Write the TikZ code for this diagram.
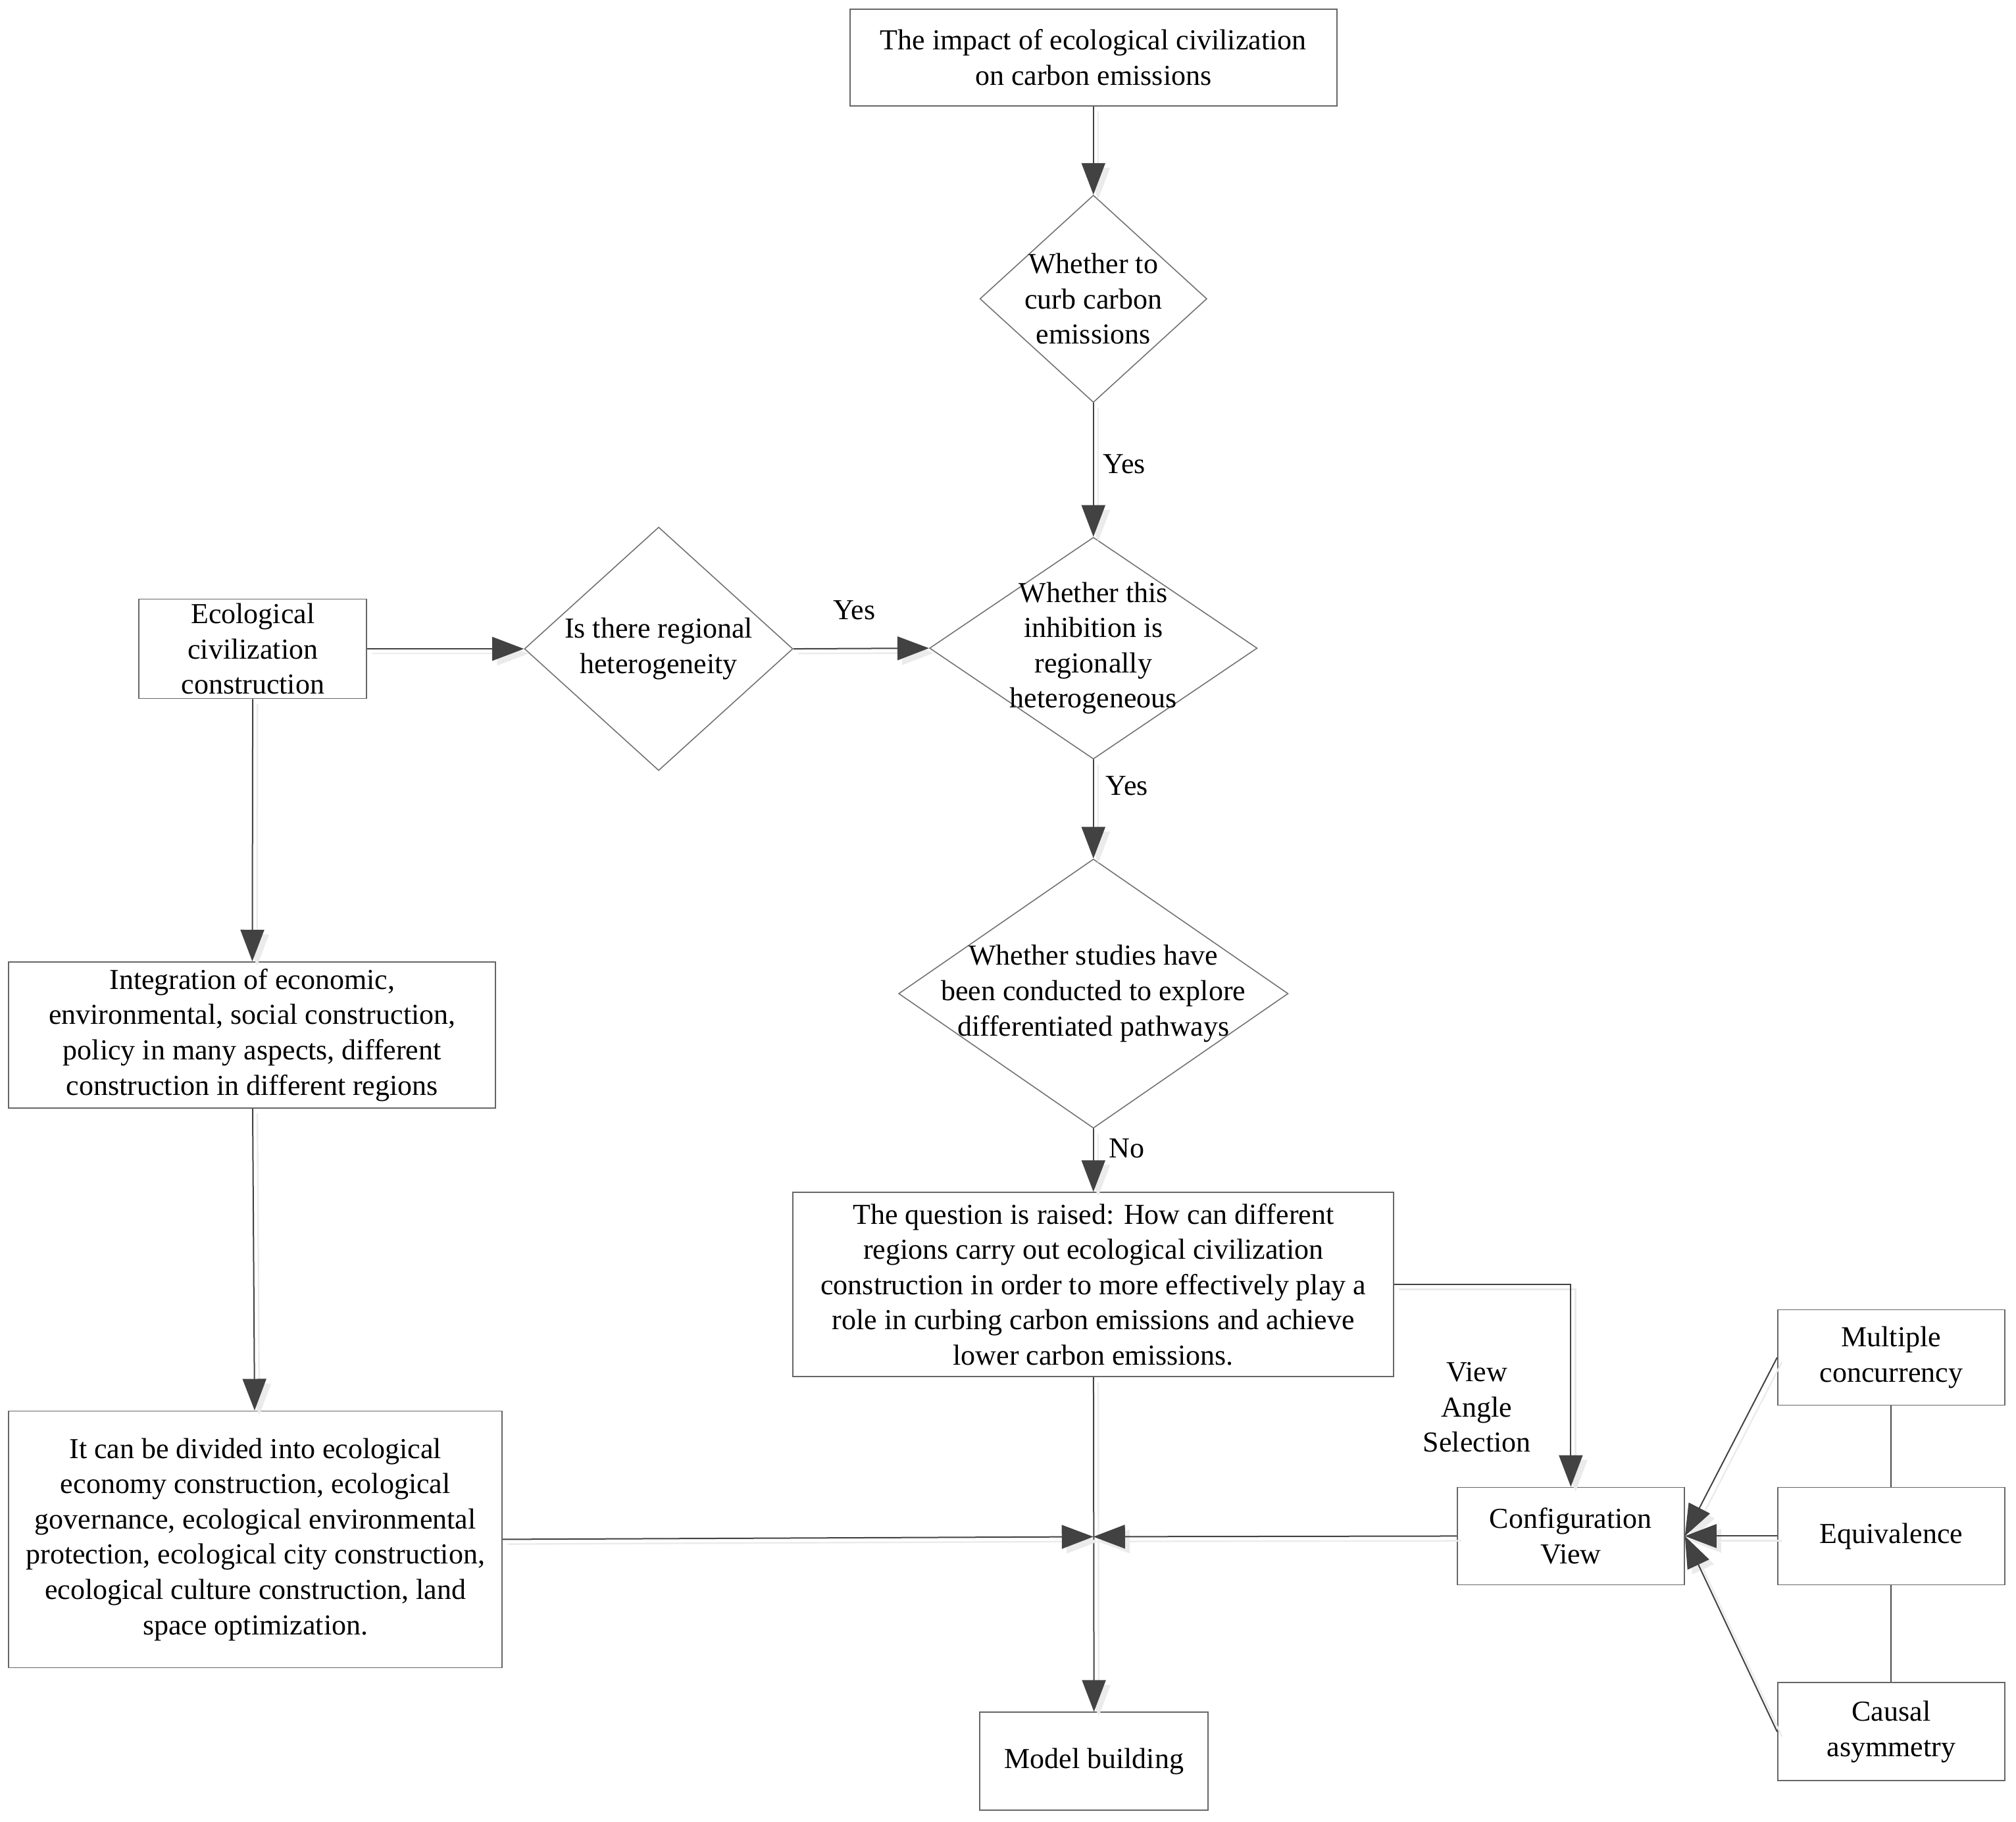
\documentclass[tikz,border=0pt]{standalone}
\usepackage{fontspec}
\setmainfont{Liberation Serif}
\usetikzlibrary{shapes.geometric,arrows.meta}
\begin{document}
\begin{tikzpicture}[x=0.2495pt,y=-0.2495pt,
  every node/.style={font=\fontsize{11}{13.4}\selectfont},
  box/.style={draw=black!60, line width=0.45pt, rectangle, inner sep=0pt, align=center},
  dia/.style={draw=black!55, line width=0.4pt, diamond, inner sep=0pt},
  txt/.style={align=center, inner sep=0pt},
  conn/.style={draw=black!74, line width=0.5pt, -{Triangle[length=12pt,width=9pt]},
    preaction={draw=black!8, line width=0.6pt, transform canvas={shift={(1.8pt,-1.8pt)}}}},
  plain/.style={draw=black!70, line width=0.5pt}]
\useasboundingbox (0,0) rectangle (3070,2773.5);

% boxes
\node[box, minimum width=185pt, minimum height=36.75pt] (top) at (1665,87.5) {The impact of ecological civilization\\on carbon emissions};
\node[box, minimum width=86.5pt, minimum height=37.75pt] (eco) at (385,988) {Ecological\\civilization\\construction};
\node[box, minimum width=185pt, minimum height=55.5pt] (integ) at (384,1576) {Integration of economic,\\environmental, social construction,\\policy in many aspects, different\\construction in different regions};
\node[box, minimum width=187.5pt, minimum height=97.5pt] (divided) at (389,2344) {It can be divided into ecological\\economy construction, ecological\\governance, ecological environmental\\protection, ecological city construction,\\ecological culture construction, land\\space optimization.};
\node[box, minimum width=228.25pt, minimum height=70pt] (quest) at (1665,1956) {The question is raised: How can different\\regions carry out ecological civilization\\construction in order to more effectively play a\\role in curbing carbon emissions and achieve\\lower carbon emissions.};
\node[box, minimum width=86.75pt, minimum height=37.25pt] (model) at (1666,2682) {Model building};
\node[box, minimum width=86.25pt, minimum height=37pt] (config) at (2392,2339) {Configuration\\View};
\node[box, minimum width=86.25pt, minimum height=36.25pt] (multi) at (2880,2067) {Multiple\\concurrency};
\node[box, minimum width=86.25pt, minimum height=37pt] (equiv) at (2880,2339) {Equivalence};
\node[box, minimum width=86.25pt, minimum height=37.25pt] (causal) at (2880,2637) {Causal\\asymmetry};

% diamonds
\node[dia, minimum width=86.25pt, minimum height=78.75pt] (d1) at (1665,455) {};
\node[txt] (d1t) at (d1.center) {Whether to\\curb carbon\\emissions};
\node[dia, minimum width=124.5pt, minimum height=84.25pt] (d2) at (1665,987) {};
\node[txt] (d2t) at (d2.center) {Whether this\\inhibition is\\regionally\\heterogeneous};
\node[dia, minimum width=102pt, minimum height=92.5pt] (d3) at (1003,988) {};
\node[txt] (d3t) at (d3.center) {Is there regional\\heterogeneity};
\node[dia, minimum width=148pt, minimum height=102.25pt] (d4) at (1665,1513) {};
\node[txt] (d4t) at (d4.center) {Whether studies have\\been conducted to explore\\differentiated pathways};

% labels
\node[txt] (y1) at (1712,707) {Yes};
\node[txt] (y2) at (1301,929) {Yes};
\node[txt] (y3) at (1716,1197) {Yes};
\node[txt] (no) at (1716,1749) {No};
\node[txt] (vas) at (2249,2143) {View\\Angle\\Selection};

\coordinate (merge) at (1665,2340);

% connectors
\draw[conn] (top) -- (d1);
\draw[conn] (d1) -- (d2);
\draw[conn] (eco.east) -- (d3.west);
\draw[conn] (d3.east) -- (d2.west);
\draw[conn] (d2) -- (d4);
\draw[conn] (d4) -- (quest);
\draw[conn] (eco) -- (integ);
\draw[conn] (integ) -- (divided);
\draw[conn] (quest) -- (model);
\draw[conn] (divided.east) -- (merge);
\draw[conn] (config.west) -- (merge);
\draw[conn] (quest.east) -| (config.north);
\draw[conn] (multi.west) -- (config.east);
\draw[conn] (equiv.west) -- (config.east);
\draw[conn] (causal.west) -- (config.east);
\draw[plain] (multi) -- (equiv);
\draw[plain] (equiv) -- (causal);
\end{tikzpicture}
\end{document}
